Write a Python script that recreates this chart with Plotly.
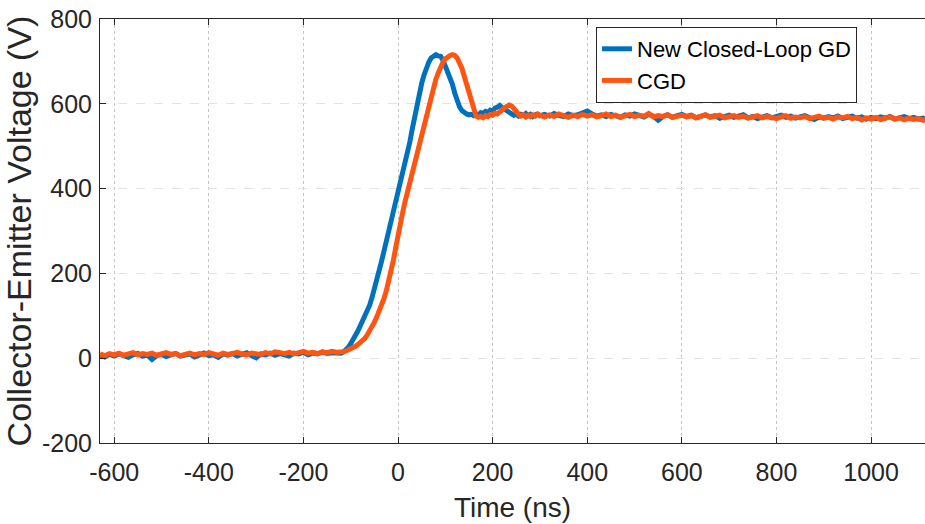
import plotly.graph_objects as go

# Sample times (ns)
time_ns = [
    -630, -620, -610, -600, -590, -580, -570, -560, -550, -540,
    -530, -520, -510, -500, -490, -480, -470, -460, -450, -440,
    -430, -420, -410, -400, -390, -380, -370, -360, -350, -340,
    -330, -320, -310, -300, -290, -280, -270, -260, -250, -240,
    -230, -220, -210, -200, -190, -180, -170, -160, -150, -140,
    -130,
    -120, -115, -110, -105, -100, -95, -90, -85, -80, -75,
    -70, -65, -60, -55, -50, -45, -40, -35, -30, -25,
    -20, -15, -10, -5, 0, 5, 10, 15, 20, 25,
    30, 35, 40, 45, 50, 55, 60, 65, 70, 75,
    80, 85, 90, 95, 100, 105, 110, 115, 120, 125,
    130, 135, 140, 145, 150, 155, 160, 165, 170, 175,
    180, 185, 190, 195, 200, 205, 210, 215, 220, 225,
    230, 235, 240, 245, 250, 255, 260, 265, 270, 275,
    280, 285, 290, 295, 300,
    310, 320, 330, 340, 350, 360, 370, 380, 390, 400,
    410, 420, 430, 440, 450, 460, 470, 480, 490, 500,
    510, 520, 530, 540, 550, 560, 570, 580, 590, 600,
    610, 620, 630, 640, 650, 660, 670, 680, 690, 700,
    710, 720, 730, 740, 750, 760, 770, 780, 790, 800,
    810, 820, 830, 840, 850, 860, 870, 880, 890, 900,
    910, 920, 930, 940, 950, 960, 970, 980, 990, 1000,
    1010, 1020, 1030, 1040, 1050, 1060, 1070, 1080, 1090, 1100,
    1110, 1115,
]

# New Closed-Loop GD (V)
v_new_gd = [
    8, 3, 9, 5, 10, 6, 2, 8, 11, 5,
    7, -3, 6, 9, 4, 8, 11, 5, 7, 10,
    3, 9, 12, 6, 8, 2, 10, 7, 11, 5,
    9, 13, 6, 1, 10, 8, 12, 7, 11, 9,
    5, 12, 10, 14, 8, 12, 10, 15, 11, 13,
    12,
    12, 15, 19, 26, 34, 43, 53, 64, 76, 88,
    100, 111, 125, 143, 162, 183, 205, 228, 251, 274,
    298, 320, 343, 366, 390, 414, 440, 462, 485, 510,
    540, 570, 600, 625, 648, 668, 685, 698, 708, 714,
    716, 713, 712, 703, 690, 676, 662, 646, 625, 606,
    593, 584, 578, 576, 574, 575, 572, 576, 574, 579,
    577, 582, 580, 585, 583, 590, 592, 596, 591, 588,
    584, 580, 576, 573, 576, 571, 575, 573, 577, 572,
    575, 570, 574, 576, 572,
    575, 571, 577, 573, 570, 576, 572, 574, 579, 583,
    576, 571, 574, 570, 575, 572, 568, 574, 571, 576,
    573, 569, 575, 571, 561, 570, 574, 568, 572, 575,
    570, 573, 567, 571, 574, 569, 572, 566, 570, 573,
    568, 571, 574, 567, 570, 565, 569, 572, 567, 570,
    573, 568, 571, 566, 569, 572, 567, 563, 569, 566,
    570, 567, 571, 565, 568, 571, 566, 569, 564, 568,
    565, 569, 566, 570, 564, 567, 570, 565, 568, 564,
    566, 563,
]

# CGD (V)
v_cgd = [
    10, 6, 11, 8, 12, 7, 10, 13, 8, 11,
    9, 12, 7, 10, 13, 9, 11, 6, 10, 12,
    8, 11, 9, 13, 10, 7, 12, 9, 11, 14,
    10, 8, 12, 11, 9, 13, 10, 15, 12, 11,
    14, 10, 13, 16, 12, 14, 11, 15, 13, 16,
    14,
    13, 15, 17, 19, 21, 24, 28, 32, 36, 41,
    47, 55, 64, 74, 85, 97, 110, 124, 140, 158,
    180, 204, 230, 260, 292, 318, 345, 370, 393, 415,
    437, 458, 477, 500, 525, 550, 575, 597, 620, 640,
    658, 673, 687, 698, 706, 711, 714, 716, 714, 708,
    698, 684, 665, 645, 622, 602, 583, 571, 568, 570,
    567, 572, 570, 575, 573, 578, 576, 582, 585, 590,
    594, 597, 595, 590, 582, 575, 571, 574, 569, 573,
    570, 574, 571, 575, 572,
    569, 574, 570, 576, 572, 568, 573, 570, 575, 571,
    574, 569, 572, 576, 570, 573, 568, 572, 575, 570,
    573, 571, 577, 569, 572, 570, 574, 568, 571, 573,
    569, 572, 567, 571, 574, 568, 570, 573, 567, 570,
    572, 568, 571, 566, 569, 572, 567, 570, 568, 565,
    569, 572, 566, 569, 567, 570, 565, 568, 571, 566,
    568, 564, 569, 567, 570, 565, 568, 562, 567, 564,
    568, 563, 566, 569, 564, 567, 562, 566, 563, 565,
    561, 563,
]

series_names = ["New Closed-Loop GD", "CGD"]
series_colors = ["#0072BD", "#FF5510"]

x_ticks = [-600, -400, -200, 0, 200, 400, 600, 800, 1000]
y_ticks = [-200, 0, 200, 400, 600, 800]

fig = go.Figure()
for name, vals, col in zip(series_names, [v_new_gd, v_cgd], series_colors):
    n = min(len(time_ns), len(vals))
    fig.add_trace(go.Scatter(
        x=time_ns[:n], y=vals[:n], mode="lines", name=name,
        line=dict(color=col, width=5),
    ))

font_family = "Liberation Sans, Arial, sans-serif"
W, H = 925, 524
ml, mt, mb, mr = 100, 19, 81, 0
pw = W - ml - mr
ph = H - mt - mb

fig.update_layout(
    width=W, height=H,
    margin=dict(l=ml, r=mr, t=mt, b=mb, pad=0),
    paper_bgcolor="white", plot_bgcolor="white",
    font=dict(family=font_family, size=25, color="#262626"),
    showlegend=True,
    legend=dict(
        x=(857 - ml) / pw, xanchor="right",
        y=1 - (27 - mt) / ph, yanchor="top",
        bgcolor="white", bordercolor="#262626", borderwidth=1,
        font=dict(size=22, color="#000000", family=font_family),
        itemwidth=30, tracegroupgap=0,
    ),
    xaxis=dict(
        range=[-630, 1114], tickvals=x_ticks,
        ticktext=[str(v) for v in x_ticks],
        ticks="inside", ticklen=6, tickcolor="#262626",
        showline=True, linecolor="#262626", linewidth=1, mirror="ticks",
        showgrid=True, gridcolor="#c4c4c4", griddash="dot", gridwidth=1,
        zeroline=False, ticklabelstandoff=7,
        title=dict(text="Time (ns)", font=dict(size=28), standoff=12),
        tickfont=dict(size=25),
    ),
    yaxis=dict(
        range=[-200, 800], tickvals=y_ticks,
        ticktext=[str(v) for v in y_ticks],
        ticks="inside", ticklen=6, tickcolor="#262626",
        showline=True, linecolor="#262626", linewidth=1, mirror=False,
        showgrid=True, gridcolor="#e3e3e3", griddash="dash", gridwidth=1,
        zeroline=False, ticklabelstandoff=2,
        title=dict(text="Collector-Emitter Voltage (V)", font=dict(size=34), standoff=6),
        tickfont=dict(size=25),
    ),
)

fig.write_html("out.html")
